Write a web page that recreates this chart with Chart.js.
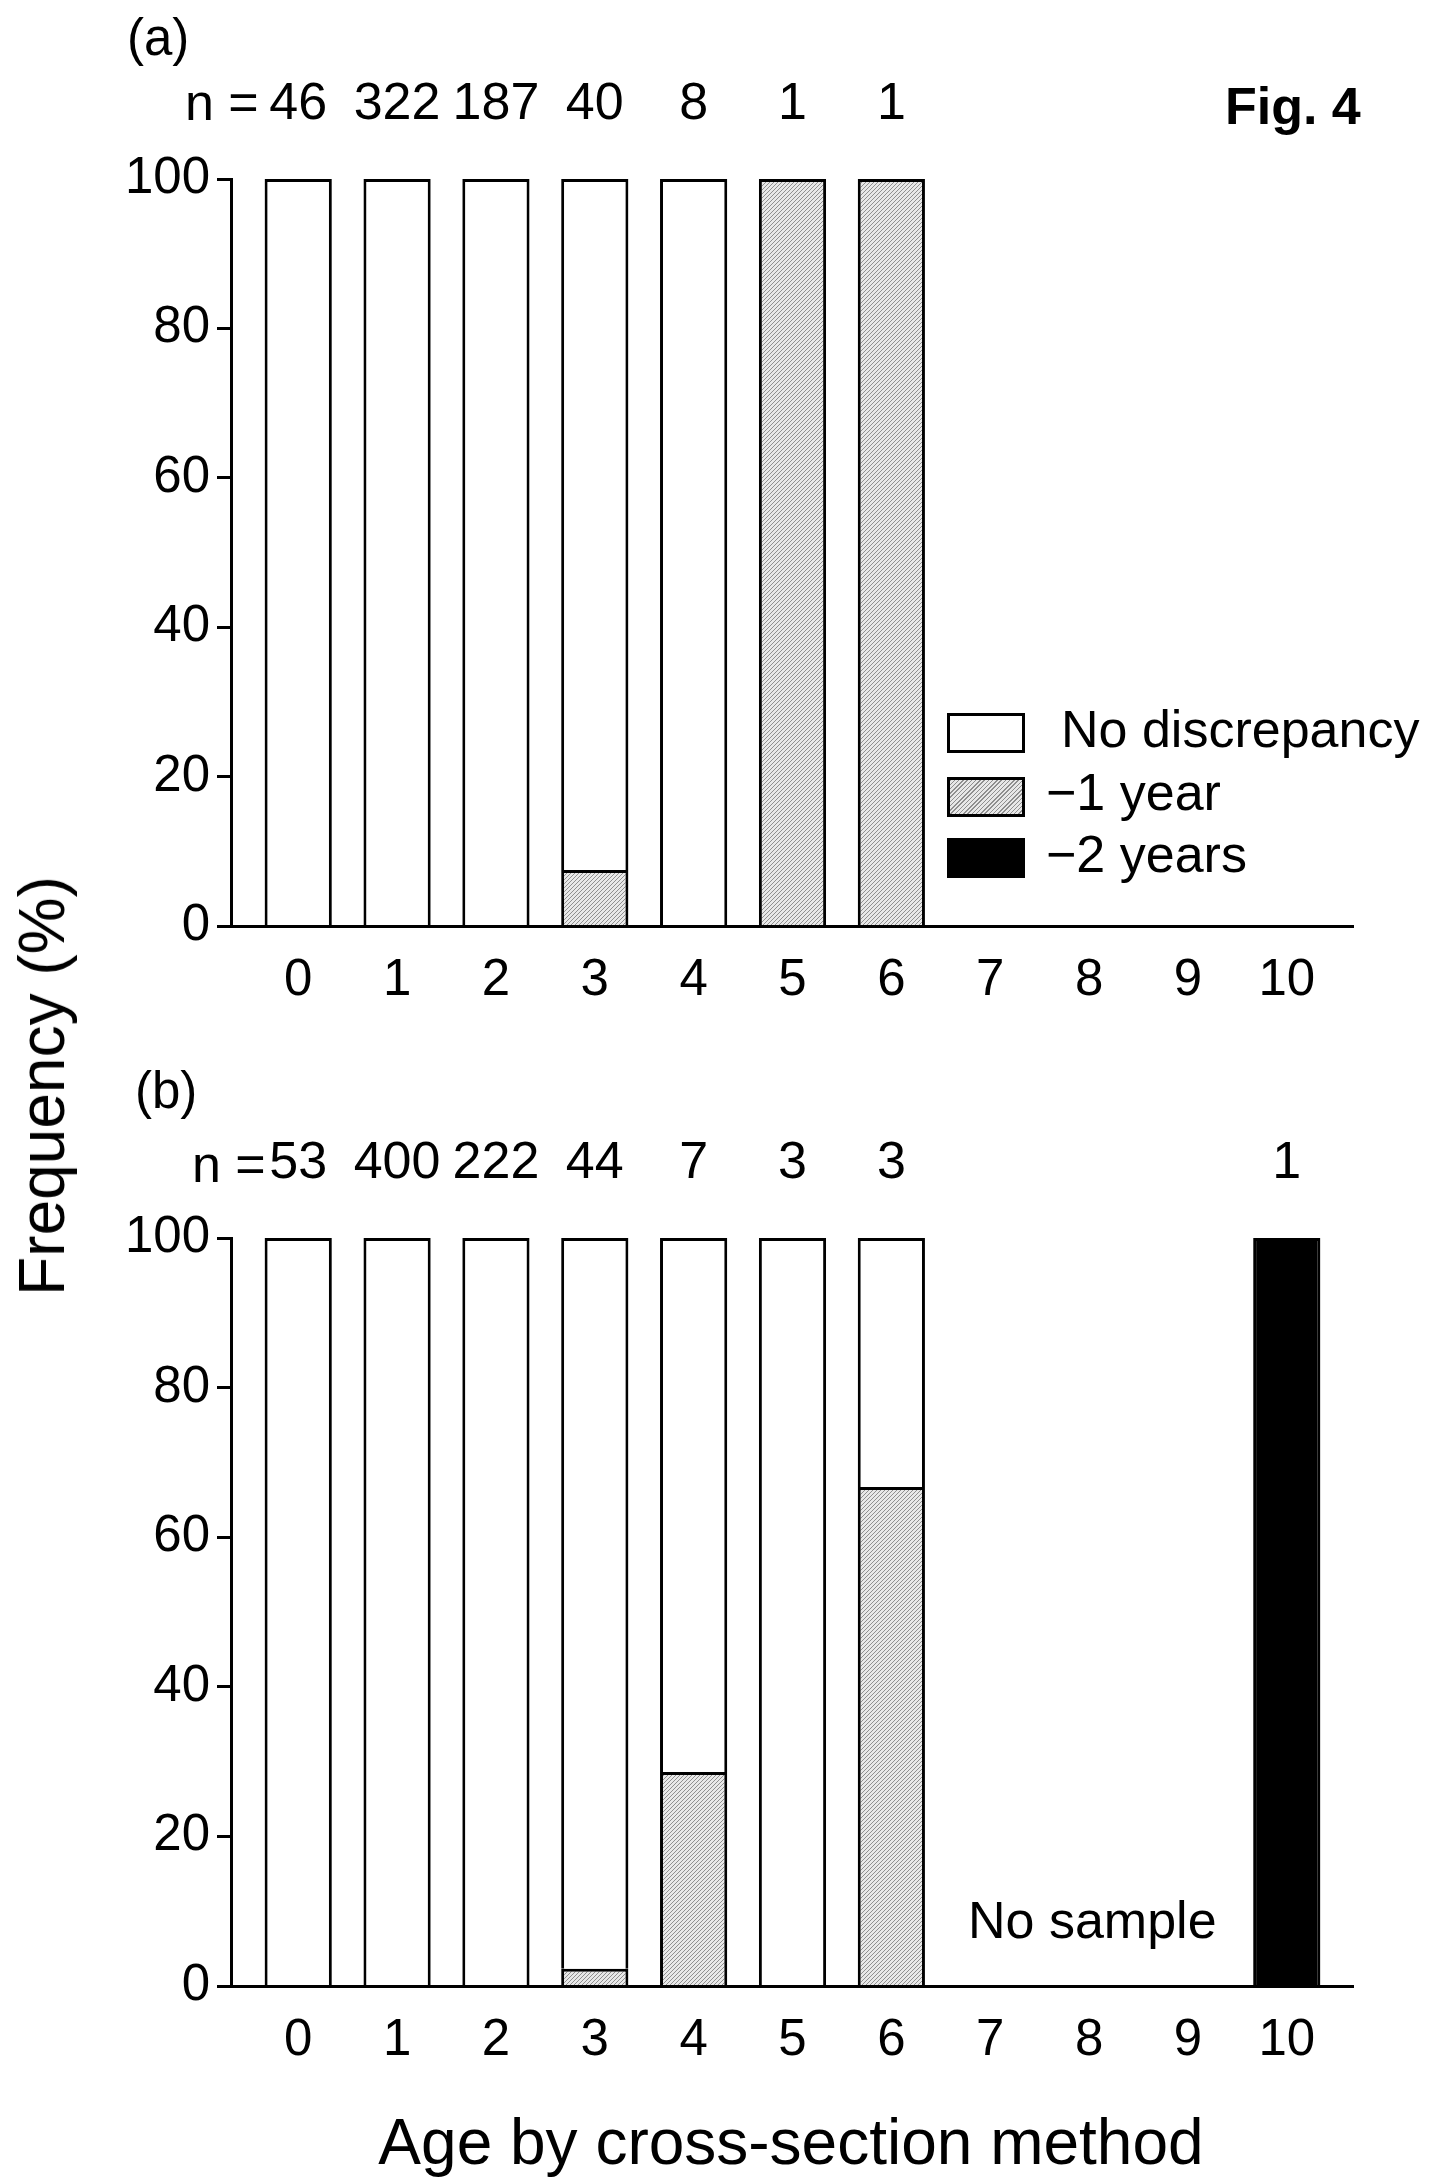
<!DOCTYPE html>
<html>
<head>
<meta charset="utf-8">
<script src="https://cdn.jsdelivr.net/npm/chart.js@4.4.1/dist/chart.umd.min.js"></script>
<style>
  body { margin: 0; background: #fff; }
  #fig { position: relative; width: 1448px; height: 2183px; overflow: hidden; background: #fff;
         font-family: "Liberation Sans", Arial, sans-serif; color: #000; }
  canvas { position: absolute; left: 0; }
  .t { position: absolute; white-space: nowrap; line-height: 1; font-size: 52px; }
  .sw { position: absolute; left: 947px; width: 78px; height: 40px; box-sizing: border-box; border: 3px solid #000; }
</style>
</head>
<body>
<div id="fig">
  <canvas id="chartA" width="1448" height="1026" style="top:0px"></canvas>
  <canvas id="chartB" width="1448" height="1027" style="top:1059px"></canvas>

  <div class="t" style="left:127px; top:12px; font-size:51px">(a)</div>
  <div class="t" style="left:135px; top:1065px; font-size:51px">(b)</div>
  <div class="t" style="left:1225px; top:80px; font-weight:bold">Fig. 4</div>
  <div class="t" style="left:185px; top:76px">n =</div>
  <div class="t" style="left:192px; top:1138px">n =</div>

  <!-- legend, panel (a) -->
  <div class="sw" style="top:713px; background:#fff"></div>
  <div class="sw" style="top:777px; background:repeating-linear-gradient(135deg, #8f8f8f 0 1px, #e8e8e8 1px 3px)"></div>
  <div class="sw" style="top:838px; background:#000"></div>
  <div class="t" style="left:1061px; top:703px">No discrepancy</div>
  <div class="t" style="left:1046px; top:766px">&minus;1 year</div>
  <div class="t" style="left:1046px; top:828px">&minus;2 years</div>

  <div class="t" style="left:968px; top:1894px">No sample</div>

  <div class="t" style="left:791px; top:2110px; font-size:64px; transform:translateX(-50%)">Age by cross-section method</div>
  <div class="t" style="left:42px; top:1086px; font-size:64px; transform:translate(-50%,-50%) rotate(-90deg)">Frequency (%)</div>
</div>

<script>
const ages = [0, 1, 2, 3, 4, 5, 6, 7, 8, 9, 10];
const yTicks = [0, 20, 40, 60, 80, 100];

// (a) sample sizes and % per discrepancy class
const nA = [46, 322, 187, 40, 8, 1, 1, null, null, null, null];
const noDiscA = [100, 100, 100, 92.5, 100, 0, 0, null, null, null, null];
const minus1A = [0, 0, 0, 7.5, 0, 100, 100, null, null, null, null];
const minus2A = [0, 0, 0, 0, 0, 0, 0, null, null, null, null];

// (b)
const nB = [53, 400, 222, 44, 7, 3, 3, null, null, null, 1];
const noDiscB = [100, 100, 100, 97.7, 71.4, 100, 33.3, null, null, null, 0];
const minus1B = [0, 0, 0, 2.3, 28.6, 0, 66.7, null, null, null, 0];
const minus2B = [0, 0, 0, 0, 0, 0, 0, null, null, null, 100];

const FONT = '"Liberation Sans", Arial, sans-serif';

function makeHatch() {
    const c = document.createElement('canvas');
    c.width = 4; c.height = 4;
    const g = c.getContext('2d');
    g.fillStyle = '#e8e8e8';
    g.fillRect(0, 0, 4, 4);
    g.strokeStyle = '#8f8f8f';
    g.lineWidth = 1;
    g.beginPath();
    g.moveTo(0, 4); g.lineTo(4, 0);
    g.moveTo(-1, 1); g.lineTo(1, -1);
    g.moveTo(3, 5); g.lineTo(5, 3);
    g.stroke();
    return g.createPattern(c, 'repeat');
}

function agesAsTicks(scale) {
    scale.ticks = ages.map(v => ({ value: v }));
}

function buildChart(id, nVals, noDisc, minus1, minus2) {
    const hatch = makeHatch();
    return new Chart(document.getElementById(id), {
        type: 'bar',
        data: {
            labels: ages,
            datasets: [
                { label: '\u22121 year', data: minus1, backgroundColor: hatch },
                { label: '\u22122 years', data: minus2, backgroundColor: '#000' },
                { label: 'No discrepancy', data: noDisc, backgroundColor: '#fff' }
            ]
        },
        options: {
            responsive: false,
            animation: false,
            devicePixelRatio: 1,
            layout: { padding: { left: 0, right: 95, top: 0, bottom: 0 } },
            datasets: {
                bar: {
                    borderColor: '#000',
                    borderWidth: 3,
                    borderSkipped: 'start',
                    barPercentage: 0.68,
                    categoryPercentage: 1,
                    clip: false
                }
            },
            plugins: { legend: { display: false }, tooltip: { enabled: false } },
            scales: {
                x: {
                    type: 'linear', stacked: true, min: -0.68, max: 10.67, offset: false,
                    grid: { display: false },
                    border: { display: true, color: '#000', width: 3, z: 1 },
                    afterBuildTicks: agesAsTicks,
                    ticks: { color: '#000', font: { family: FONT, size: 51 }, padding: 16, autoSkip: false, maxRotation: 0 },
                    afterFit: s => { s.height = 100; }
                },
                xn: {
                    type: 'linear', position: 'top', min: -0.68, max: 10.67, offset: false,
                    grid: { display: false },
                    border: { display: false },
                    afterBuildTicks: agesAsTicks,
                    ticks: {
                        color: '#000', font: { family: FONT, size: 52 }, padding: 35, autoSkip: false, maxRotation: 0,
                        callback: (v, i) => nVals[i] ?? ''
                    },
                    afterFit: s => { s.height = 179; }
                },
                y: {
                    stacked: true, min: 0, max: 100,
                    afterBuildTicks: s => { s.ticks = yTicks.map(v => ({ value: v })); },
                    grid: { drawOnChartArea: false, tickLength: 14, tickColor: '#000', tickWidth: 3 },
                    border: { display: true, color: '#000', width: 3 },
                    ticks: { color: '#000', font: { family: FONT, size: 51 }, padding: 7 },
                    afterFit: s => { s.width = 231; }
                }
            }
        }
    });
}

buildChart('chartA', nA, noDiscA, minus1A, minus2A);
buildChart('chartB', nB, noDiscB, minus1B, minus2B);
</script>
</body>
</html>
